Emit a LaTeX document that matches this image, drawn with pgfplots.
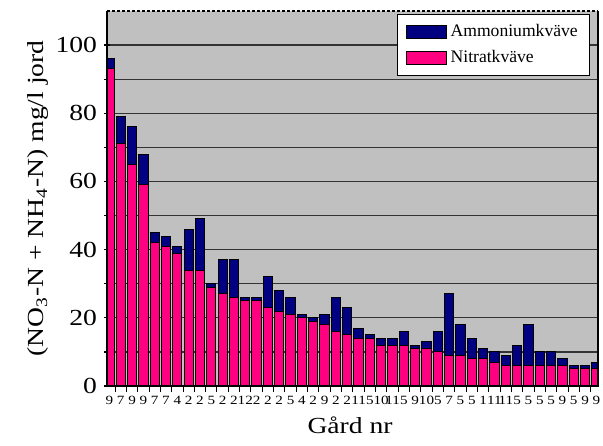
\documentclass[border=0pt]{standalone}
\usepackage{fontspec}
\setmainfont{Liberation Serif}
\usepackage{graphicx}
\usepackage{pgfplots}
\pgfplotsset{compat=1.18}
\usepackage{pgfplotstable}

\definecolor{ammon}{RGB}{0,0,128}
\definecolor{nitrat}{RGB}{255,0,128}
\definecolor{plotgray}{RGB}{192,192,192}

% gård, nitratkväve, ammoniumkväve (mg/l jord)
\pgfplotstableread{
x nit amm
1 93 3
2 71 8
3 65 11
4 59 9
5 42 3
6 41 3
7 39 2
8 34 12
9 34 15
10 29 1
11 27 10
12 26 11
13 25 1
14 25 1
15 23 9
16 22 6
17 21 5
18 20 1
19 19 1
20 18 3
21 16 10
22 15 8
23 14 3
24 14 1
25 12 2
26 12 2
27 12 4
28 11 1
29 11 2
30 10 6
31 9 18
32 9 9
33 8 6
34 8 3
35 7 3
36 6 3
37 6 6
38 6 12
39 6 4
40 6 4
41 6 2
42 5 1
43 5 1
44 5 2
}\gardar

\newcommand{\st}[1]{\scalebox{1.2}[1]{#1}}

\begin{document}
\begin{tikzpicture}
\useasboundingbox (-53.5pt,-29.5pt) rectangle (248pt,193pt);
\begin{axis}[
  scale only axis,
  width=245.5pt, height=187.5pt,
  ybar stacked, bar width=0.82,
  xmin=0.79, xmax=44.14,
  ymin=0, ymax=110,
  axis background/.style={fill=plotgray},
  axis line style={draw=none},
  /pgf/number format/assume math mode=true,
  ytick={0,20,...,100},
  minor ytick={10,30,...,90},
  ymajorgrids, yminorgrids,
  major grid style={black!80, line width=0.6pt},
  minor grid style={black!80, line width=0.6pt},
  ytick pos=left,
  ytick align=center,
  major tick length=3pt, minor tick length=3pt,
  yticklabel={\st{\pgfmathprintnumber{\tick}}},
  yticklabel style={font=\fontsize{11.5}{13}\selectfont},
  xtick={1,...,44},
  xticklabels={\st{9},\st{7},\st{9},\st{9},\st{7},\st{7},\st{4},\st{2},\st{2},\st{5},\st{2},\st{2},\st{12},\st{2},\st{2},\st{2},\st{5},\st{4},\st{2},\st{9},\st{2},\st{2},\st{11},\st{5},\st{10},\st{11},\st{5},\st{9},\st{10},\st{5},\st{7},\st{5},\st{5},\st{1},\st{11},\st{11},\st{5},\st{5},\st{5},\st{5},\st{9},\st{5},\st{9},\st{9}},
  xticklabel style={font=\fontsize{6.3}{7}\selectfont, inner sep=1pt, yshift=-1pt},
  minor xtick={1.5,2.5,...,43.5},
  xtick pos=bottom,
  xtick align=outside,
  major x tick style={draw=none},
  minor x tick style={black, line width=0.5pt},
  minor y tick style={black, line width=0.6pt},
  major y tick style={black, line width=0.6pt},
  xlabel={\st{Gård nr}},
  xlabel style={font=\fontsize{11.5}{13}\selectfont, at={(axis description cs:0.495,-0.104)}, anchor=center},
  ylabel={\st{(NO\textsubscript{3}-N + NH\textsubscript{4}-N) mg/l jord}},
  ylabel style={font=\fontsize{11.5}{13}\selectfont, at={(axis description cs:-0.1405,0.5)}, anchor=center},
  reverse legend,
  legend style={at={(0.984,0.992)}, anchor=north east, draw=black, fill=white,
    font=\fontsize{8.8}{10}\selectfont, inner xsep=4pt, inner ysep=3pt, row sep=1.5pt},
  legend cell align=left,
]
\addplot[fill=nitrat, draw=black, line width=0.5pt,
  legend image code/.code={\draw[fill=nitrat, draw=black, line width=0.4pt] (0pt,-3.2pt) rectangle (20pt,3.2pt);}]
  table[x=x, y=nit] {\gardar};
\addplot[fill=ammon, draw=black, line width=0.5pt,
  legend image code/.code={\draw[fill=ammon, draw=black, line width=0.4pt] (0pt,-3.2pt) rectangle (20pt,3.2pt);}]
  table[x=x, y=amm] {\gardar};
\legend{Nitratkväve, Ammoniumkväve}
\end{axis}
\draw[black, line width=0.8pt] (current axis.north west) -- (current axis.south west) -- (current axis.south east) -- (current axis.north east);
\draw[black, line width=0.6pt, dash pattern=on 1.5pt off 1pt] (current axis.north west) -- (current axis.north east);
\end{tikzpicture}
\end{document}
